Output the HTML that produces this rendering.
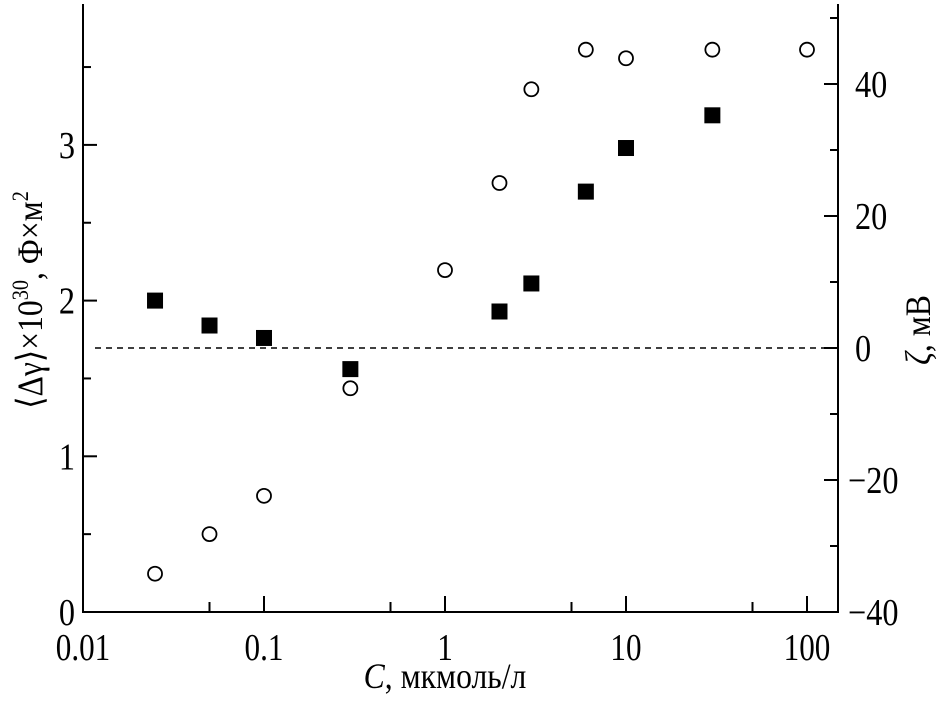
<!DOCTYPE html>
<html><head><meta charset="utf-8"><style>
body{margin:0;background:#fff}
svg text{font-family:"Liberation Serif",serif;fill:#000}
</style></head><body>
<svg id="chart" width="946" height="696" xmlns="http://www.w3.org/2000/svg"></svg>
<script>
const sqC=[0.025,0.05,0.1,0.3,2,3,6,10,30];
const sqV=[2.0,1.84,1.76,1.56,1.93,2.11,2.70,2.98,3.19];
const ciC=[0.025,0.05,0.1,0.3,1,2,3,6,10,30,100];
const ciV=[-34.2,-28.2,-22.4,-6.1,11.8,25,39.2,45.2,43.9,45.2,45.2];
const xTicks=["0.01","0.1","1","10","100"];
const xTickVals=[0.01,0.1,1,10,100];
const yLTicks=[0,1,2,3];
const yRTicks=[-40,-20,0,20,40];
const NS="http://www.w3.org/2000/svg";
const svg=document.getElementById('chart');
const L=83,R=838,T=4,B=612;
const X=c=>L+(Math.log10(c)+2)*181;
const YL=v=>B-v*155.7;
const YR=v=>348-v*6.6;
function mk(t,a,p){const e=document.createElementNS(NS,t);for(const k in a)e.setAttribute(k,a[k]);(p||svg).appendChild(e);return e;}
let e;
e=mk('path',{d:`M${L} ${T}V${B}H${R}V${T}`,fill:'none',stroke:'#000','stroke-width':2});


for(let d=-2;d<=2;d++){for(let m=1;m<10;m++){const c=m*Math.pow(10,d);const x=X(c);if(x>R)break;
 if(m==1||m==5){const len=m==1?16:10;e=mk('line',{x1:x,x2:x,y1:B,y2:B-len,stroke:'#000','stroke-width':2});
 
 }}}
xTickVals.forEach((v,i)=>{const x=X(v);e=mk('text',{x:0,y:0,'font-size':38,'text-anchor':'middle',transform:`translate(${x},${B+48}) scale(0.82,1)`});e.textContent=xTicks[i];
 
 });
for(let v=0;v<=3.5;v+=0.5){const y=YL(v);const len=(v%1==0)?14:8;e=mk('line',{x1:L,x2:L+len,y1:y,y2:y,stroke:'#000','stroke-width':2});
 
 }
yLTicks.forEach(v=>{e=mk('text',{x:0,y:0,'font-size':38,'text-anchor':'end',transform:`translate(${L-8},${YL(v)+13}) scale(0.85,1)`});e.textContent=v;
 
 });
for(let v=-40;v<=50;v+=10){const y=YR(v);if(y<T)continue;const len=(v%20==0)?14:8;e=mk('line',{x1:R,x2:R-len,y1:y,y2:y,stroke:'#000','stroke-width':2});
 
 }
yRTicks.forEach(v=>{e=mk('text',{x:0,y:0,'font-size':38,'text-anchor':'start',transform:`translate(${v<0?848:855},${YR(v)+13}) scale(0.85,1)`});e.textContent=v<0?'\u2212'+(-v):v;
 
 });
e=mk('line',{x1:95,x2:830,y1:YR(0),y2:YR(0),stroke:'#000','stroke-width':1.5,'stroke-dasharray':'6,5'});


sqC.forEach((c,i)=>{e=mk('rect',{x:X(c)-8,y:YL(sqV[i])-8,width:16,height:16,fill:'#000'});
 
 });
ciC.forEach((c,i)=>{e=mk('circle',{cx:X(c),cy:YR(ciV[i]),r:7,fill:'none',stroke:'#000','stroke-width':1.8});
 
 });
e=mk('text',{x:0,y:0,'font-size':36,'text-anchor':'middle',transform:'translate(445,688) scale(0.88,1)'});
e.innerHTML='<tspan font-style="italic">C</tspan>, мкмоль/л';


e=mk('text',{x:0,y:0,'font-size':36,'text-anchor':'middle',transform:'translate(42,300) rotate(-90) scale(0.88,1)'});
e.innerHTML='⟨Δγ⟩×10<tspan font-size="23" dy="-14">30</tspan><tspan dy="14">, Ф×м</tspan><tspan font-size="23" dy="-14">2</tspan>';


e=mk('text',{x:0,y:0,'font-size':36,'text-anchor':'middle',transform:'translate(930,330) rotate(-90) scale(0.88,1)'});
e.innerHTML='<tspan font-style="italic">ζ</tspan>, мВ';


</script>
</body></html>
